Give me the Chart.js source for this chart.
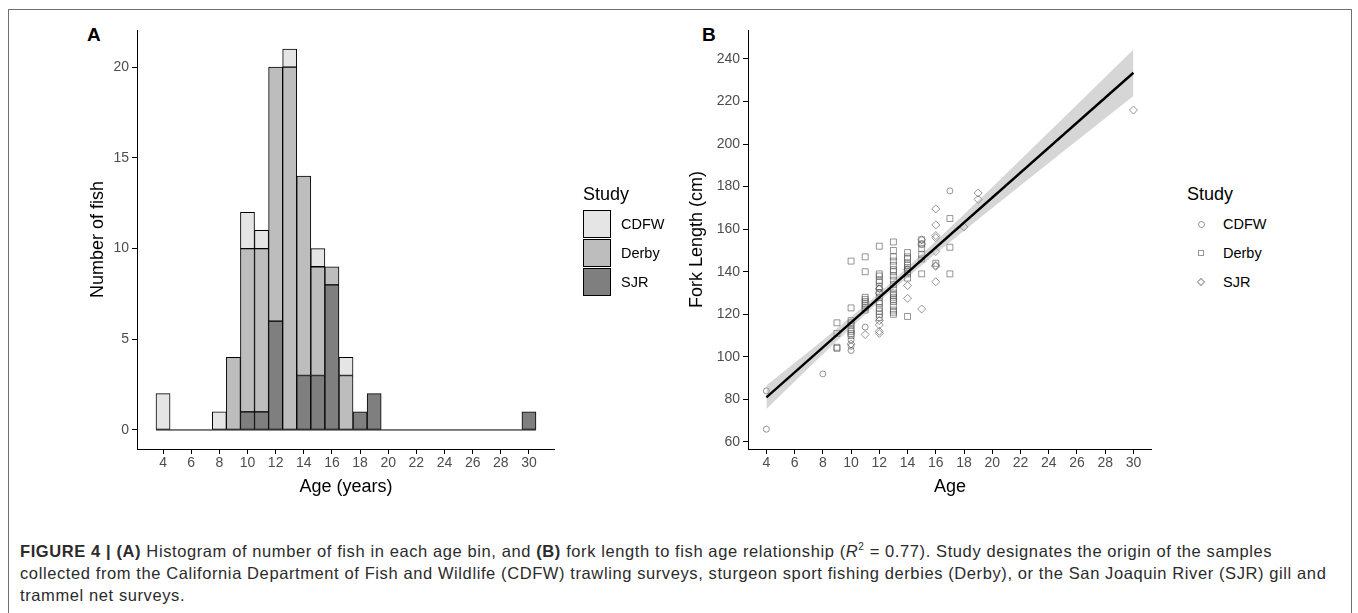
<!DOCTYPE html>
<html>
<head>
<meta charset="utf-8">
<title>Figure 4 – sturgeon age and fork length</title>
<script src="https://cdn.jsdelivr.net/npm/chart.js@4.4.1/dist/chart.umd.min.js"></script>
<style>
	html, body { margin: 0; padding: 0; background: #fff; }
	body { position: relative; width: 1358px; height: 613px; overflow: hidden; font-family: 'Liberation Sans', Arial, sans-serif; }
	.frame { position: absolute; left: 8px; top: 9px; width: 1344px; height: 650px; box-sizing: border-box; border: 1px solid #707070; }
	.panel-tag { position: absolute; top: 25px; font: bold 19px/19px 'Liberation Sans', Arial, sans-serif; color: #000; }
	canvas { position: absolute; top: 0; }
	#histCanvas { left: 60px; }
	#fitCanvas { left: 660px; }
	.legend { position: absolute; top: 184px; color: #000; }
	.legend-title { font-size: 18px; line-height: 20px; height: 26px; }
	.legend-item { display: flex; align-items: flex-start; height: 29px; font-size: 14.5px; line-height: 28px; }
	.key-fill { width: 28px; height: 28px; box-sizing: border-box; border: 1px solid #000; margin-right: 10px; }
	.key-slot { width: 28px; height: 28px; display: flex; align-items: center; justify-content: center; margin-right: 8px; }
	.pt { box-sizing: border-box; border: 1px solid; }
	.pt.circle { width: 7px; height: 7px; border-radius: 50%; }
	.pt.rect { width: 6px; height: 6px; }
	.pt.rectRot { width: 6px; height: 6px; transform: rotate(45deg); }
	.caption { position: absolute; left: 20px; top: 536px; font-size: 16.5px; letter-spacing: 0.6px; line-height: 22px; color: #2b2b2b; white-space: nowrap; }
</style>
</head>
<body>
<div class="frame"></div>
<div class="panel-tag" style="left:87px">A</div>
<div class="panel-tag" style="left:702px">B</div>
<canvas id="histCanvas" width="495" height="505"></canvas>
<canvas id="fitCanvas" width="497" height="505"></canvas>
<div class="legend" id="histLegend" style="left:583px"></div>
<div class="legend" id="fitLegend" style="left:1187px"></div>
<div class="caption">
<b>FIGURE 4 | (A)</b> Histogram of number of fish in each age bin, and <b>(B)</b> fork length to fish age relationship (<i>R</i><sup style="font-size:10px">2</sup> = 0.77). Study designates the origin of the samples<br>
collected from the California Department of Fish and Wildlife (CDFW) trawling surveys, sturgeon sport fishing derbies (Derby), or the San Joaquin River (SJR) gill and<br>
trammel net surveys.
</div>

<script>
// Figure 4: (A) stacked age histogram by study, (B) fork length vs age with linear fit.

const STUDIES = ['CDFW', 'Derby', 'SJR'];

// ---- Panel A: number of fish per one-year age bin ----
const AGE_BINS = [4, 5, 6, 7, 8, 9, 10, 11, 12, 13, 14, 15, 16, 17, 18, 19, 20, 21, 22, 23, 24, 25, 26, 27, 28, 29, 30];
//                    4  5  6  7  8  9 10 11  12  13  14 15 16 17 18 19   20 .. 29             30
const CDFW_COUNTS  = [2, 0, 0, 0, 1, 0, 2, 1,  0,  1,  0, 1, 0, 1, 0, 0,  0, 0, 0, 0, 0, 0, 0, 0, 0, 0,  0];
const DERBY_COUNTS = [0, 0, 0, 0, 0, 4, 9, 9, 14, 20, 11, 6, 1, 3, 0, 0,  0, 0, 0, 0, 0, 0, 0, 0, 0, 0,  0];
const SJR_COUNTS   = [0, 0, 0, 0, 0, 0, 1, 1,  6,  0,  3, 3, 8, 0, 1, 2,  0, 0, 0, 0, 0, 0, 0, 0, 0, 0,  1];
const HIST_X_TICKS = [4, 6, 8, 10, 12, 14, 16, 18, 20, 22, 24, 26, 28, 30];
const HIST_Y_TICKS = [0, 5, 10, 15, 20];

// ---- Panel B: individual fish [age, fork length cm] ----
const CDFW_FISH = [[4, 84], [4, 66], [8, 92], [10, 108], [10, 105], [10, 103], [11, 114], [12, 132], [17, 178]];
const DERBY_FISH = [
	[9, 116], [9, 111], [9, 104], [9, 104.5],
	[10, 145], [10, 123], [10, 117], [10, 116], [10, 115], [10, 113], [10, 112], [10, 111], [10, 110],
	[11, 147], [11, 140], [11, 128], [11, 127], [11, 126], [11, 125], [11, 124], [11, 123], [11, 122],
	[12, 152], [12, 139], [12, 138], [12, 136], [12, 135], [12, 133], [12, 130], [12, 128], [12, 126], [12, 125], [12, 123], [12, 121.5], [12, 120], [12, 118.5],
	[13, 154], [13, 150], [13, 147], [13, 145], [13, 143], [13, 141], [13, 140], [13, 138], [13, 136], [13, 134],
	[13, 132], [13, 130], [13, 129], [13, 128], [13, 127], [13, 126], [13, 124], [13, 122], [13, 121], [13, 120],
	[14, 149], [14, 147], [14, 146], [14, 144], [14, 143], [14, 142], [14, 141], [14, 140], [14, 139], [14, 137], [14, 119],
	[15, 155], [15, 153], [15, 151], [15, 148], [15, 146], [15, 139],
	[16, 144],
	[17, 165], [17, 151.5], [17, 139],
];
const SJR_FISH = [
	[10, 106], [11, 110.5],
	[12, 132], [12, 130], [12, 117], [12, 115], [12, 112], [12, 111],
	[14, 141], [14, 133.5], [14, 127.5],
	[15, 155], [15, 153], [15, 122.5],
	[16, 169.5], [16, 162], [16, 157], [16, 156], [16, 149.5], [16, 143], [16, 142.5], [16, 135.3],
	[18, 161], [19, 177], [19, 174], [30, 216],
];
// fitted line and its confidence band
const FIT_AGES = [4, 30];
const FIT_LENGTH = [81, 233.5];
const BAND_AGES = [4, 8, 12, 16, 20, 25, 30];
const BAND_LOWER = [75.5, 101.2, 126.1, 148.6, 169.9, 196.4, 222.6];
const BAND_UPPER = [86.5, 107.8, 129.9, 154.3, 179.7, 212.0, 244.4];
const FIT_X_TICKS = [4, 6, 8, 10, 12, 14, 16, 18, 20, 22, 24, 26, 28, 30];
const FIT_Y_TICKS = [60, 80, 100, 120, 140, 160, 180, 200, 220, 240];

const COLORS = {
	fill: { CDFW: '#e5e5e5', Derby: '#bdbdbd', SJR: '#7f7f7f' },
	point: 'rgba(80,80,80,0.6)',
	band: 'rgba(153,153,153,0.4)',
	axis: '#000',
	tick: '#4d4d4d',
};
const FONT = "'Liberation Sans', Arial, sans-serif";

Chart.defaults.font.family = FONT;
Chart.defaults.color = COLORS.tick;

// Legend drawn as HTML next to the plot, ggplot style.
const htmlLegend = {
	id: 'htmlLegend',
	afterUpdate(chart, args, opts) {
		const box = document.getElementById(opts.containerID);
		if (!box) return;
		box.innerHTML = '';
		const title = document.createElement('div');
		title.className = 'legend-title';
		title.textContent = opts.title;
		box.appendChild(title);
		const sets = chart.data.datasets.filter(ds => STUDIES.includes(ds.label))
			.sort((a, b) => STUDIES.indexOf(a.label) - STUDIES.indexOf(b.label));
		sets.forEach(ds => {
			const row = document.createElement('div');
			row.className = 'legend-item';
			let key;
			if (opts.keyType === 'fill') {
				key = document.createElement('span');
				key.className = 'key-fill';
				key.style.background = ds.backgroundColor;
			} else {
				key = document.createElement('span');
				key.className = 'key-slot';
				const pt = document.createElement('span');
				pt.className = 'pt ' + ds.pointStyle;
				pt.style.borderColor = ds.borderColor;
				key.appendChild(pt);
			}
			const txt = document.createElement('span');
			txt.textContent = ds.label;
			row.appendChild(key);
			row.appendChild(txt);
			box.appendChild(row);
		});
	},
};

function axisCfg(min, max, ticks, title, pad, size) {
	return {
		type: 'linear',
		min, max,
		offset: false,
		afterBuildTicks(scale) { scale.ticks = ticks.map(v => ({ value: v })); },
		afterFit(scale) {
			if (scale.isHorizontal()) scale.height = size; else scale.width = size;
		},
		grid: { display: true, offset: false, drawOnChartArea: false, drawTicks: true, tickLength: 5, tickColor: COLORS.axis, tickWidth: 1 },
		border: { display: true, color: COLORS.axis, width: 1 },
		ticks: { color: COLORS.tick, font: { size: 14 }, padding: 3, maxRotation: 0, autoSkip: false },
		title: { display: true, text: title, color: '#000', font: { size: 18 }, padding: pad },
	};
}

function histDataset(label, counts) {
	return {
		type: 'bar',
		label,
		data: AGE_BINS.map((a, i) => ({ x: a, y: counts[i] })),
		backgroundColor: COLORS.fill[label],
		borderColor: COLORS.axis,
		borderWidth: 1,
		borderSkipped: false,
		barPercentage: 1,
		categoryPercentage: 1,
		stack: 'study',
	};
}

function pointDataset(label, fish, style, radius) {
	return {
		label,
		data: fish.map(([age, len]) => ({ x: age, y: len })),
		pointStyle: style,
		pointRadius: radius,
		pointHoverRadius: radius,
		borderColor: COLORS.point,
		backgroundColor: 'rgba(0,0,0,0)',
		pointBorderWidth: 1,
		showLine: false,
	};
}

function lineDataset(ages, values, extra) {
	return Object.assign({
		data: ages.map((a, i) => ({ x: a, y: values[i] })),
		showLine: true,
		pointRadius: 0,
		tension: 0,
	}, extra);
}

// ---- Panel A chart ----
const histX = axisCfg(2.15, 31.85, HIST_X_TICKS, 'Age (years)', { top: 0, bottom: 7.2 }, 56);
histX.stacked = true;
histX.ticks.padding = 1;
const histY = axisCfg(-1.05, 22.05, HIST_Y_TICKS, 'Number of fish', { top: 27.7, bottom: 0 }, 77);
histY.stacked = true;

new Chart(document.getElementById('histCanvas'), {
	type: 'bar',
	data: {
		datasets: [
			histDataset('SJR', SJR_COUNTS),
			histDataset('Derby', DERBY_COUNTS),
			histDataset('CDFW', CDFW_COUNTS),
			lineDataset([AGE_BINS[0] - 0.5, AGE_BINS[AGE_BINS.length - 1] + 0.5], [0, 0], {
				type: 'line', label: 'baseline', borderColor: COLORS.axis, borderWidth: 1, stack: 'baseline',
			}),
		],
	},
	options: {
		responsive: false,
		animation: false,
		layout: { padding: { top: 30, left: 0, right: 0, bottom: 0 } },
		scales: { x: histX, y: histY },
		plugins: {
			legend: { display: false },
			tooltip: { enabled: false },
			htmlLegend: { containerID: 'histLegend', title: 'Study', keyType: 'fill' },
		},
	},
	plugins: [htmlLegend],
});

// ---- Panel B chart ----
const fitX = axisCfg(2.7, 31.3, FIT_X_TICKS, 'Age', { top: 0, bottom: 7.2 }, 56);
fitX.ticks.padding = 1;
const fitY = axisCfg(56.7, 253.6, FIT_Y_TICKS, 'Fork Length (cm)', { top: 26.2, bottom: 0 }, 88);

new Chart(document.getElementById('fitCanvas'), {
	type: 'scatter',
	data: {
		datasets: [
			lineDataset(FIT_AGES, FIT_LENGTH, { label: 'fit', borderColor: '#000', borderWidth: 2.4, fill: false }),
			lineDataset(BAND_AGES, BAND_UPPER, { label: 'upper', borderColor: 'rgba(0,0,0,0)', borderWidth: 0, fill: '+1', backgroundColor: COLORS.band }),
			lineDataset(BAND_AGES, BAND_LOWER, { label: 'lower', borderColor: 'rgba(0,0,0,0)', borderWidth: 0, fill: false }),
			pointDataset('CDFW', CDFW_FISH, 'circle', 3),
			pointDataset('Derby', DERBY_FISH, 'rect', 4.2),
			pointDataset('SJR', SJR_FISH, 'rectRot', 4),
		],
	},
	options: {
		responsive: false,
		animation: false,
		layout: { padding: { top: 30, left: 0, right: 0, bottom: 0 } },
		scales: { x: fitX, y: fitY },
		plugins: {
			legend: { display: false },
			tooltip: { enabled: false },
			htmlLegend: { containerID: 'fitLegend', title: 'Study', keyType: 'point' },
		},
	},
	plugins: [htmlLegend],
});
</script>
</body>
</html>
